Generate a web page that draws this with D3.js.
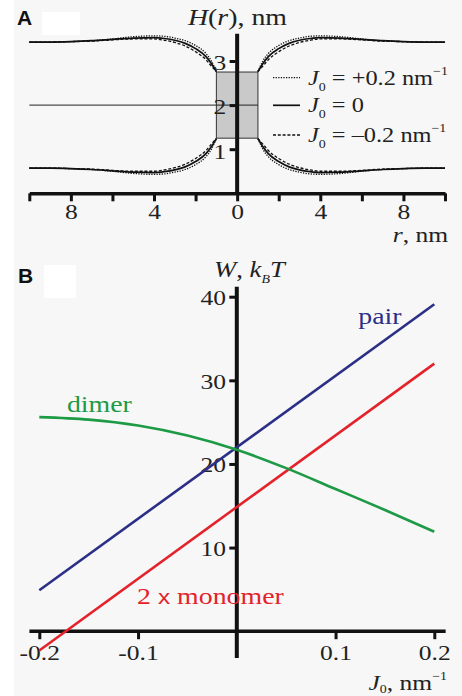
<!DOCTYPE html>
<html>
<head>
<meta charset="utf-8">
<script src="https://cdn.jsdelivr.net/npm/d3@7"></script>
<style>
  body { margin: 0; background: #fff; }
  svg { display: block; }
  text { font-family: "Liberation Serif", "Times New Roman", serif; fill: #222; }
</style>
</head>
<body>
<svg id="chart" width="462" height="696"></svg>
<script>
// ---- panel A: membrane profile H(r), upper leaflet, r >= 1 nm (mirrored) ----
const rVals = [1, 1.25, 1.5, 2, 2.5, 3, 3.5, 4, 5, 6, 7, 8, 9, 10];
const hZero = [2.76, 2.95, 3.10, 3.28, 3.40, 3.47, 3.51, 3.53, 3.52, 3.49, 3.46, 3.44, 3.43, 3.43];
const hPlus = [2.76, 3.01, 3.17, 3.35, 3.46, 3.52, 3.56, 3.57, 3.55, 3.50, 3.46, 3.44, 3.43, 3.43];
const hMinus = [2.76, 2.89, 3.03, 3.21, 3.34, 3.42, 3.47, 3.50, 3.50, 3.48, 3.45, 3.44, 3.43, 3.43];
const rTicks = [-10, -8, -6, -4, -2, 0, 2, 4, 6, 8, 10];
const rTickLabels = ["", "8", "", "4", "", "0", "", "4", "", "8", ""];
const hTicks = [1, 2, 3];
const protein = { r0: -1, r1: 1, h0: 1.25, h1: 2.75 };

// ---- panel B: energies W vs J0 ----
const j0Ends = [-0.2, 0.2];
const pairW = [4.9, 39.1];
const monomerW = [-2.3, 32.0];
const dimerJ0 = [-0.2, -0.15, -0.1, -0.05, 0, 0.05, 0.1, 0.15, 0.2];
const dimerW = [25.6, 25.3, 24.6, 23.4, 21.7, 19.5, 17.0, 14.5, 11.9];
const j0Ticks = [-0.2, -0.1, 0.1, 0.2];
const j0TickLabels = ["-0.2", "-0.1", "0.1", "0.2"];
const wTicks = [10, 20, 30, 40];

const SX = 1.16; // the original figure's type is set a little wide
const svg = d3.select("#chart");

svg.append("rect")
  .attr("x", 14).attr("y", 0).attr("width", 448).attr("height", 696)
  .attr("fill", "#f7f7f7");

function label(x, y, size, anchor) {
  return svg.append("text")
    .attr("transform", `translate(${x},${y}) scale(${SX},1)`)
    .attr("text-anchor", anchor || "start")
    .style("font-size", size + "px");
}

function panelLetter(letter, x, y, box) {
  svg.append("rect")
    .attr("x", box[0]).attr("y", box[1]).attr("width", box[2]).attr("height", box[3])
    .attr("fill", "#fff");
  svg.append("text")
    .attr("x", x).attr("y", y)
    .style("font-family", "'Liberation Sans', Arial, sans-serif")
    .style("font-weight", "bold")
    .style("font-size", "21px")
    .style("fill", "#111")
    .text(letter);
}

function styleTicks(g, size, dy) {
  g.selectAll(".tick line").attr("stroke", "#111").attr("stroke-width", 3);
  const t = g.selectAll(".tick text")
    .style("font-family", "'Liberation Serif', 'Times New Roman', serif")
    .style("font-size", size + "px")
    .attr("fill", "#222")
    .attr("transform", `scale(${SX},1)`);
  if (dy) t.attr("dy", dy);
}

// ================= panel A =================
const xA = d3.scaleLinear().domain([-10, 10]).range([29.3, 445]);
const yA = d3.scaleLinear().domain([0, 3]).range([193.3, 61]);

panelLetter("A", 17, 25, [42, 12, 38, 23]);

svg.append("rect")
  .attr("x", xA(protein.r0)).attr("y", yA(protein.h1))
  .attr("width", xA(protein.r1) - xA(protein.r0))
  .attr("height", yA(protein.h0) - yA(protein.h1))
  .attr("fill", "#c9c9c9")
  .attr("stroke", "#333")
  .attr("stroke-width", 1);

svg.append("line")
  .attr("x1", xA(-10)).attr("x2", xA(1))
  .attr("y1", yA(2)).attr("y2", yA(2))
  .attr("stroke", "#222").attr("stroke-width", 1);

const profiles = [
  { h: hPlus, dash: "1.3,1.3", width: 1.3 },
  { h: hMinus, dash: "3,1.8", width: 1.3 },
  { h: hZero, dash: null, width: 1.7 }
];

const profLine = d3.line()
  .x(d => xA(d[0]))
  .y(d => yA(d[1]))
  .curve(d3.curveMonotoneX);

profiles.forEach(p => {
  const branches = [];
  [1, -1].forEach(side => {
    branches.push(rVals.map((r, i) => [side * r, p.h[i]]));
    branches.push(rVals.map((r, i) => [side * r, 4 - p.h[i]]));
  });
  branches.forEach(b => {
    b.sort((a, c) => a[0] - c[0]);
    svg.append("path")
      .attr("d", profLine(b))
      .attr("fill", "none")
      .attr("stroke", "#111")
      .attr("stroke-width", p.width)
      .attr("stroke-dasharray", p.dash);
  });
});

// legend
const legendA = [
  { y: 77.7, dash: "1.3,1.3", w: 1.3, sign: "+0.2", unit: true },
  { y: 105.3, dash: null, w: 1.7, sign: "0", unit: false },
  { y: 135, dash: "3,1.8", w: 1.3, sign: "\u20130.2", unit: true }
];
legendA.forEach(l => {
  svg.append("line")
    .attr("x1", 273).attr("x2", 300).attr("y1", l.y).attr("y2", l.y)
    .attr("stroke", "#111").attr("stroke-width", l.w)
    .attr("stroke-dasharray", l.dash);
  const t = label(308, l.y + 7, 21);
  t.append("tspan").style("font-style", "italic").text("J");
  t.append("tspan").attr("dy", 6).style("font-size", "12px").text("0");
  t.append("tspan").attr("dy", -6).text(" = " + l.sign + (l.unit ? " nm" : ""));
  if (l.unit) {
    t.append("tspan").attr("dy", -10).style("font-size", "12px").text("\u22121");
  }
});

// x axis A
const axisA = svg.append("g")
  .attr("transform", `translate(0,${yA(0)})`)
  .call(d3.axisBottom(xA)
    .tickValues(rTicks)
    .tickFormat((d, i) => rTickLabels[i])
    .tickSize(8)
    .tickSizeOuter(0)
    .tickPadding(2));
axisA.select(".domain").attr("stroke", "#111").attr("stroke-width", 3.5);
styleTicks(axisA, 22);

// y axis A
svg.append("line")
  .attr("x1", xA(0)).attr("x2", xA(0))
  .attr("y1", yA(3.62)).attr("y2", yA(0))
  .attr("stroke", "#111").attr("stroke-width", 4);
const yAxisA = svg.append("g")
  .attr("transform", `translate(${xA(0) - 1.5},0)`)
  .call(d3.axisLeft(yA).tickValues(hTicks).tickSize(6).tickPadding(2).tickFormat(d3.format("d")));
yAxisA.select(".domain").remove();
styleTicks(yAxisA, 22, "0.4em");

// axis titles A
const hTitle = label(188, 25, 24);
hTitle.append("tspan").style("font-style", "italic").text("H");
hTitle.append("tspan").text("(");
hTitle.append("tspan").style("font-style", "italic").text("r");
hTitle.append("tspan").text("), nm");

const rTitle = label(448, 242, 22, "end");
rTitle.append("tspan").style("font-style", "italic").text("r");
rTitle.append("tspan").text(", nm");

// ================= panel B =================
const xB = d3.scaleLinear().domain([-0.2, 0.2]).range([39.3, 434.3]);
const yB = d3.scaleLinear().domain([0, 40]).range([631.2, 296.7]);

panelLetter("B", 18, 283, [44, 265, 32, 33]);

// axes B
const axisB = svg.append("g")
  .attr("transform", `translate(0,${yB(0)})`)
  .call(d3.axisBottom(xB)
    .tickValues(j0Ticks)
    .tickFormat((d, i) => j0TickLabels[i])
    .tickSize(8)
    .tickSizeOuter(0)
    .tickPadding(5));
axisB.select(".domain").attr("d", `M${xB(-0.21)},0H${xB(0.2115)}`)
  .attr("stroke", "#111").attr("stroke-width", 3.5);
styleTicks(axisB, 22);

svg.append("line")
  .attr("x1", xB(0)).attr("x2", xB(0))
  .attr("y1", yB(41.2)).attr("y2", yB(-3.2))
  .attr("stroke", "#111").attr("stroke-width", 4);
const yAxisB = svg.append("g")
  .attr("transform", `translate(${xB(0) - 1.5},0)`)
  .call(d3.axisLeft(yB).tickValues(wTicks).tickSize(6).tickPadding(2));
yAxisB.select(".domain").remove();
styleTicks(yAxisB, 22, "0.36em");

// series B
const lineB = d3.line().x(d => xB(d[0])).y(d => yB(d[1]));
const seriesB = [
  { name: "pair", pts: j0Ends.map((j, i) => [j, pairW[i]]), color: "#2b2f86", curve: d3.curveLinear },
  { name: "monomer", pts: j0Ends.map((j, i) => [j, monomerW[i]]), color: "#e3222b", curve: d3.curveLinear },
  { name: "dimer", pts: dimerJ0.map((j, i) => [j, dimerW[i]]), color: "#1d9a45", curve: d3.curveMonotoneX }
];
seriesB.forEach(s => {
  svg.append("path")
    .attr("d", lineB.curve(s.curve)(s.pts))
    .attr("fill", "none")
    .attr("stroke", s.color)
    .attr("stroke-width", 2.6);
});

// series labels
label(xB(0.123), yB(36.7), 24).style("fill", "#2b2f86").text("pair");
label(xB(-0.172), yB(26.2), 24).style("fill", "#1d9a45").text("dimer");
const monoLabel = label(xB(-0.101), yB(3.3), 24).style("fill", "#e3222b");
monoLabel.append("tspan").text("2 ");
monoLabel.append("tspan").style("font-family", "'Liberation Sans', Arial, sans-serif")
  .style("font-size", "21px").text("x");
monoLabel.append("tspan").text(" monomer");

// axis titles B
const wTitle = label(214, 277, 23);
wTitle.append("tspan").style("font-style", "italic").text("W");
wTitle.append("tspan").text(", ");
wTitle.append("tspan").style("font-style", "italic").text("k");
wTitle.append("tspan").attr("dy", 6).style("font-style", "italic").style("font-size", "12px").text("B");
wTitle.append("tspan").attr("dy", -6).style("font-style", "italic").text("T");

const jTitle = label(447, 690, 22, "end");
jTitle.append("tspan").style("font-style", "italic").text("J");
jTitle.append("tspan").attr("dy", 3).style("font-size", "12px").text("0");
jTitle.append("tspan").attr("dy", -3).text(", nm");
jTitle.append("tspan").attr("dy", -10).style("font-size", "12px").text("\u22121");
</script>
</body>
</html>
